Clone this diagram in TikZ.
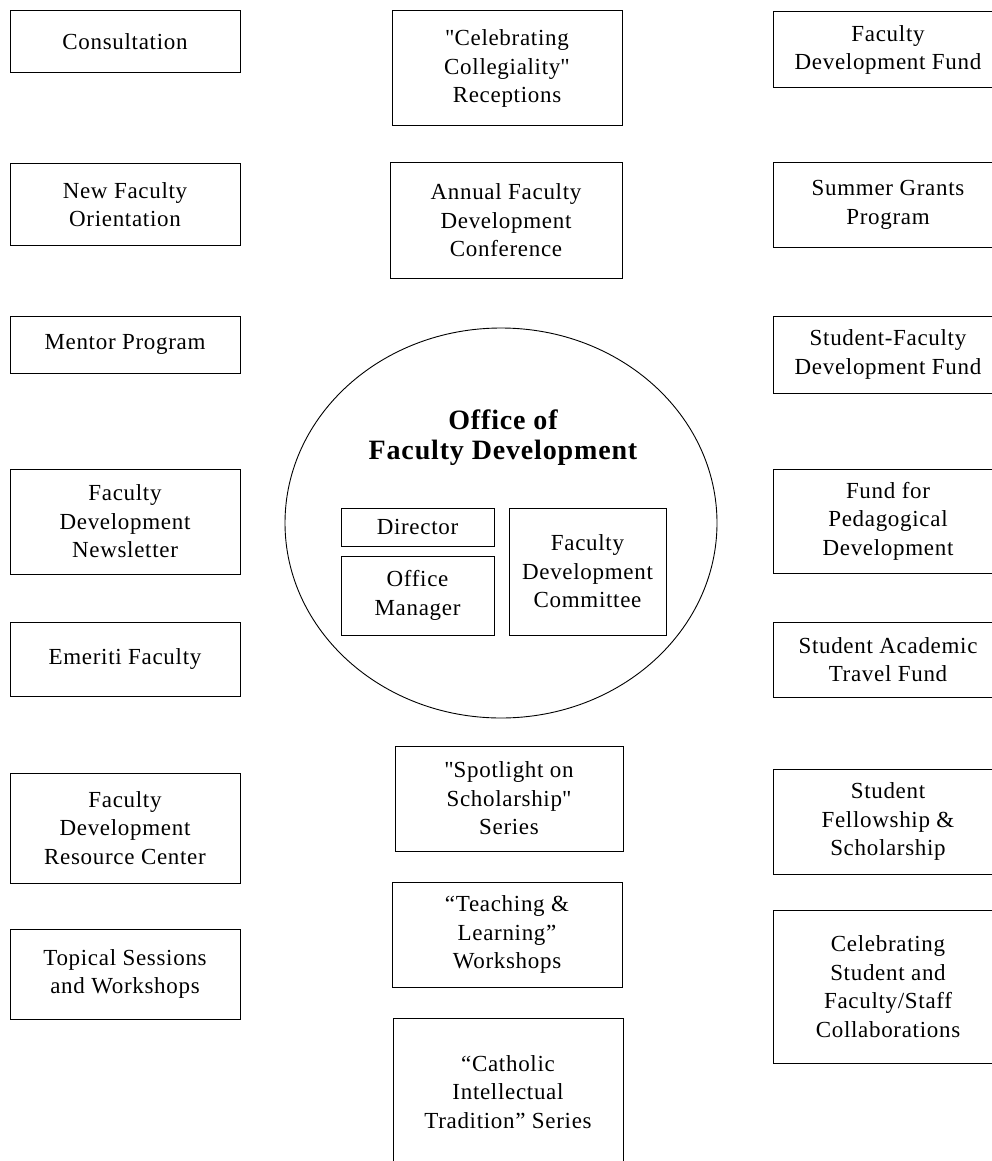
\documentclass[tikz,border=0pt]{standalone}
\usepackage{fontspec}
\setmainfont{Liberation Serif}[LetterSpace=3]
\usepackage{tikz}
\usetikzlibrary{shapes.geometric}

\begin{document}
\begin{tikzpicture}[x=1pt,y=-1pt,
  box/.style={draw, line width=1pt, align=center, inner sep=0pt,
    font=\fontsize{23}{28.5}\selectfont},
  lbox/.style={box, minimum width=230pt},
  rbox/.style={box, minimum width=230pt}]
  \clip (0,0) rectangle (992,1161);
  \fill[white] (0,0) rectangle (992,1161);
  % left column
  \node[lbox, minimum height=62pt] (consult) at (125,42) {Consultation};
  \node[lbox, minimum height=81pt] (newfac) at (125,204.5) {New Faculty\\Orientation};
  \node[lbox, minimum height=57pt] (mentor) at (125,344.5) {Mentor Program};
  \node[lbox, minimum height=105pt] (newsletter) at (125,521.5) {Faculty\\Development\\Newsletter};
  \node[lbox, minimum height=74pt] (emeriti) at (125,659) {Emeriti Faculty};
  \node[lbox, minimum height=110pt] (resource) at (125,828) {Faculty\\Development\\Resource Center};
  \node[lbox, minimum height=90pt] (topical) at (125,974) {Topical Sessions\\and Workshops};
  % middle column
  \node[box, minimum width=230pt, minimum height=115pt] (collegial) at (507,68.5) {\textquotedbl Celebrating\\Collegiality\textquotedbl\\Receptions};
  \node[box, minimum width=232pt, minimum height=115pt] (conference) at (506,220.5) {Annual Faculty\\Development\\Conference};
  \node[box, minimum width=228pt, minimum height=105pt] (spotlight) at (509,798.5) {\textquotedbl Spotlight on\\Scholarship\textquotedbl\\Series};
  \node[box, minimum width=230pt, minimum height=105pt] (teaching) at (507,934.5) {“Teaching \&\\Learning”\\Workshops};
  \node[box, minimum width=230pt, minimum height=148pt] (catholic) at (508,1092) {“Catholic\\Intellectual\\Tradition” Series};
  % right column
  \node[rbox, minimum height=76pt] (fdfund) at (888,50) {Faculty\\Development Fund};
  \node[rbox, minimum height=84pt] (summer) at (888,205) {Summer Grants\\Program};
  \node[rbox, minimum height=77pt] (sffund) at (888,354.5) {Student-Faculty\\Development Fund};
  \node[rbox, minimum height=104pt] (pedagog) at (888,521) {Fund for\\Pedagogical\\Development};
  \node[rbox, minimum height=75pt] (travel) at (888,659.5) {Student Academic\\Travel Fund};
  \node[rbox, minimum height=105pt] (fellow) at (888,821.5) {Student\\Fellowship \&\\Scholarship};
  \node[rbox, minimum height=153pt] (collab) at (888,986.5) {Celebrating\\Student and\\Faculty/Staff\\Collaborations};
  % office in the middle
  \node[draw, ellipse, line width=0.9pt, minimum width=432pt, minimum height=390pt] (office) at (501,523) {};
  \node[align=center, font=\fontsize{28}{30}\bfseries] (title) at (503,438) {Office of\\Faculty Development};
  \node[box, minimum width=153pt, minimum height=38pt] (director) at (417.5,527) {Director};
  \node[box, minimum width=153pt, minimum height=79pt] (manager) at (417.5,595.5) {Office\\Manager};
  \node[box, minimum width=157pt, minimum height=127pt] (committee) at (587.5,571.5) {Faculty\\Development\\Committee};
\end{tikzpicture}
\end{document}
